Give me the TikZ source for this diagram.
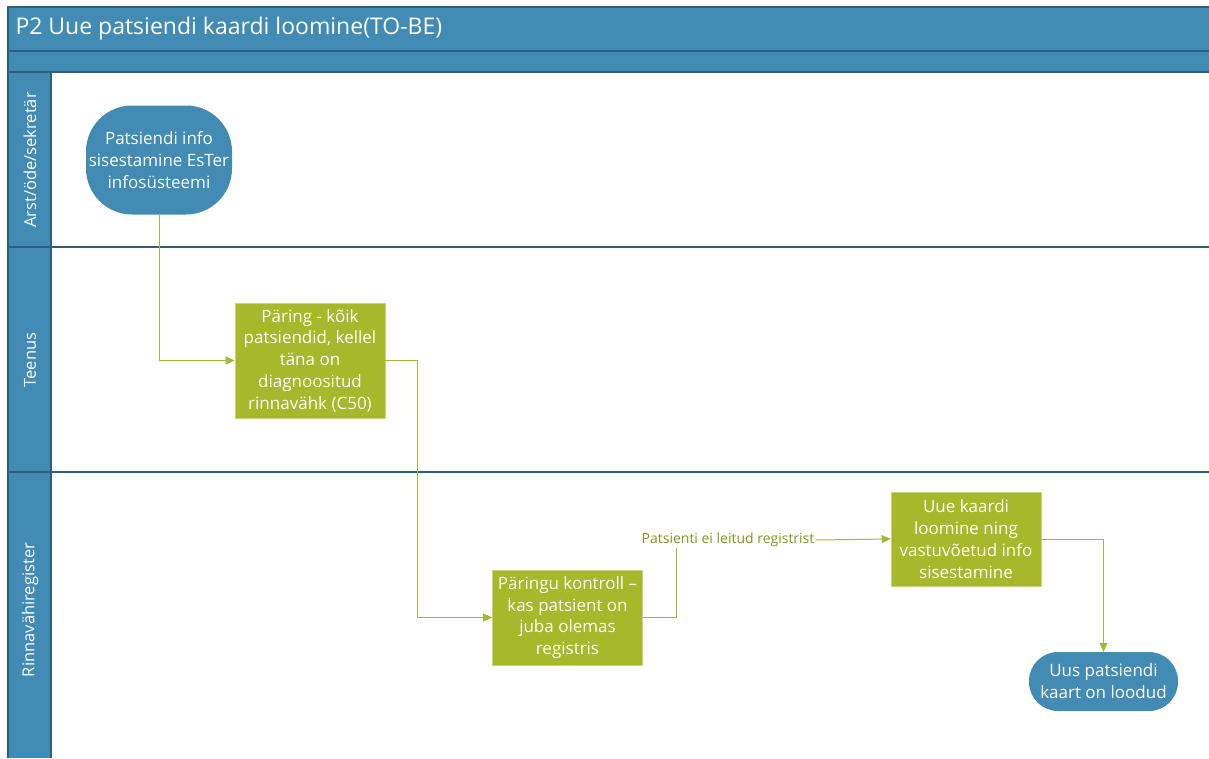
\documentclass[tikz,border=0pt]{standalone}
\usepackage{fontspec}
\setmainfont{Open Sans}
\usetikzlibrary{arrows.meta}

\definecolor{poolblue}{HTML}{428BB5}
\definecolor{poolline}{HTML}{2E5F80}
\definecolor{taskgreen}{HTML}{A7B82A}
\definecolor{flowgreen}{HTML}{A3B83A}
\definecolor{labelgreen}{HTML}{7F9A22}

\tikzset{
  terminal/.style={rectangle, fill=poolblue, text=white, align=center,
    font=\fontsize{17}{21.8}\selectfont, inner sep=0pt},
  taskbox/.style={rectangle, fill=taskgreen, draw=taskgreen!60!white, line width=0.6pt,
    text=white, align=center, font=\fontsize{17}{21.8}\selectfont,
    minimum width=150pt, inner sep=0pt},
  lanetitle/.style={rotate=90, text=white, font=\fontsize{16.5}{18}\selectfont},
  flow/.style={draw=flowgreen, line width=1pt, -{Triangle[length=9pt,width=8pt]}},
  flowplain/.style={draw=flowgreen, line width=1pt},
  flowlabel/.style={text=labelgreen, font=\fontsize{14}{16}\selectfont, inner sep=1pt, fill=white},
  sepline/.style={draw=poolline, line width=1.3pt}
}

\begin{document}
\begin{tikzpicture}[x=1pt, y=-1pt]
  \useasboundingbox (0,0) rectangle (1209,758);
  \fill[white] (0,0) rectangle (1209,758);

  % pool header and lane header column
  \fill[poolblue] (8,7) rectangle (1209,72);
  \fill[poolblue] (8,72) rectangle (51,758);
  \draw[sepline] (1209,7) -- (8,7) -- (8,758);
  \draw[sepline] (8,51) -- (1209,51);
  \draw[sepline] (8,72) -- (1209,72);
  \draw[sepline] (51,72) -- (51,758);
  \draw[sepline] (8,247) -- (1209,247);
  \draw[sepline] (8,472) -- (1209,472);

  \node[anchor=west, text=white, font=\fontsize{23}{26}\selectfont] (title) at (12,29)
    {P2 Uue patsiendi kaardi loomine(TO-BE)};

  % lane titles
  \node[lanetitle] (lane1) at (30,160) {Arst/öde/sekretär};
  \node[lanetitle] (lane2) at (30,360) {Teenus};
  \node[lanetitle] (lane3) at (30,610) {Rinnavähiregister};

  % flow elements
  \node[terminal, minimum width=146pt, minimum height=109pt, rounded corners=46pt]
    (start) at (159,160) {Patsiendi info\\sisestamine EsTer\\infosüsteemi};
  \node[taskbox, minimum height=115pt] (query) at (310,360.5)
    {Päring - kõik\\patsiendid, kellel\\täna on\\diagnoositud\\rinnavähk (C50)};
  \node[taskbox, minimum height=95pt] (check) at (567.5,617.5)
    {Päringu kontroll –\\kas patsient on\\juba olemas\\registris};
  \node[taskbox, minimum height=94pt] (create) at (966,539)
    {Uue kaardi\\loomine ning\\vastuvõetud info\\sisestamine};
  \node[terminal, minimum width=149pt, minimum height=59pt, rounded corners=29pt]
    (done) at (1103.5,681.5) {Uus patsiendi\\kaart on loodud};

  % connectors
  \draw[flow] (start.south) |- (query.west);
  \draw[flow] (query.east) -- ++(32,0) |- (check.west);

  \node[flowlabel] (notfound) at (728,540) {Patsienti ei leitud registrist};
  \coordinate (turn) at (676,617.5);
  \draw[flowplain] (check.east) -- (turn) -- (turn |- notfound.south);
  \draw[flow] (notfound.east) -- (create.west);

  \draw[flow] (create.east) -| (done.north);
\end{tikzpicture}
\end{document}
